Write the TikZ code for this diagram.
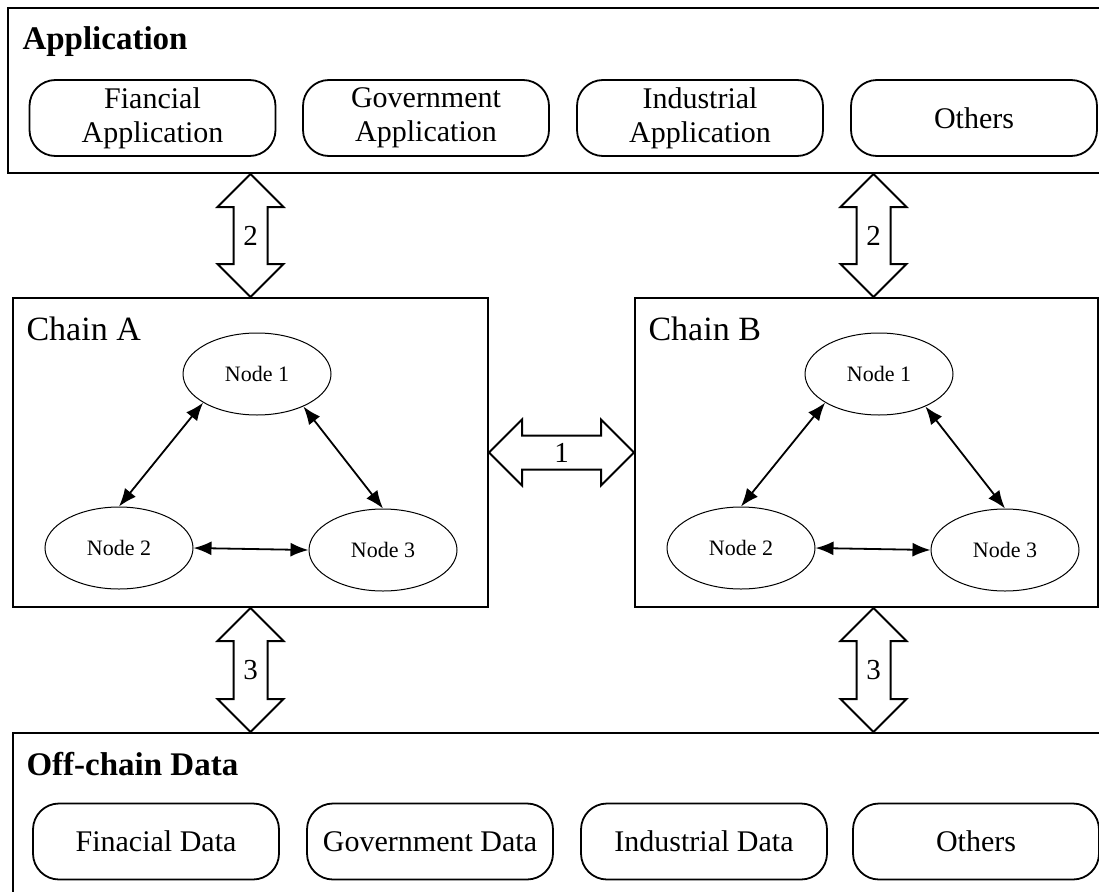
\documentclass[tikz,border=0pt]{standalone}
\usepackage{fontspec}
\setmainfont{Liberation Serif}
\usetikzlibrary{arrows.meta,calc,shapes.geometric}

\newcommand{\twoway}[4]{%
  \coordinate (#3t) at ($#1!33pt!#2$);
  \coordinate (#3b) at ($#2!33pt!#1$);
  \draw[bigarrow] #1 -- ($(#3t)!33pt!90:#1$) -- ($(#3t)!17pt!90:#1$)
    -- ($(#3b)!17pt!-90:#2$) -- ($(#3b)!33pt!-90:#2$) -- #2
    -- ($(#3b)!33pt!90:#2$) -- ($(#3b)!17pt!90:#2$)
    -- ($(#3t)!17pt!-90:#1$) -- ($(#3t)!33pt!-90:#1$) -- cycle;
  \node[numtext] (#3) at ($#1!0.5!#2$) {#4};}

\begin{document}
\begin{tikzpicture}[x=1pt,y=-1pt,
    frame/.style={draw, line width=2pt, anchor=north west, inner sep=0pt},
    tag/.style={draw, line width=1.8pt, rounded corners=26pt, minimum width=246pt, minimum height=76pt, align=center, font=\fontsize{30}{34}\selectfont},
    layertitle/.style={anchor=base west, font=\fontsize{33}{36}\selectfont\bfseries},
    chaintitle/.style={anchor=base west, font=\fontsize{34}{38}\selectfont},
    peer/.style={draw, ellipse, line width=1pt, minimum width=148pt, minimum height=82pt, inner sep=0pt, font=\fontsize{22}{24}\selectfont},
    sync/.style={line width=1.8pt, <->, >={Latex[length=18pt,width=14pt]}},
    bigarrow/.style={draw, line width=2pt, fill=white, line join=miter},
    numtext/.style={font=\fontsize{29}{30}\selectfont, inner sep=0pt}]
    \useasboundingbox (0,0) rectangle (1099,891);

    \node[frame, minimum width=1120pt, minimum height=165pt] (app) at (7,7) {};
    \node[layertitle] (apptitle) at (19,50) {Application};
    \node[tag] (finapp) at (152.5,118) {Fiancial\\Application};
    \node[tag] (govapp) at (426,118) {Government\\Application};
    \node[tag] (indapp) at (700,118) {Industrial\\Application};
    \node[tag] (othapp) at (974,118) {Others};

    \node[frame, minimum width=475pt, minimum height=309pt] (chaina) at (12,297) {};
    \node[chaintitle] (chainatitle) at (23,340) {Chain A};
    \node[peer] (a1) at (257,374) {Node 1};
    \node[peer] (a2) at (119,548) {Node 2};
    \node[peer] (a3) at (383,550) {Node 3};
    \draw[sync] (a1.208) -- (a2.north);
    \draw[sync] (a1.325) -- (a3.north);
    \draw[sync] (a2.east) -- (a3.west);

    \node[frame, minimum width=463pt, minimum height=309pt] (chainb) at (634,297) {};
    \node[chaintitle] (chainbtitle) at (645,340) {Chain B};
    \node[peer] (b1) at (879,374) {Node 1};
    \node[peer] (b2) at (741,548) {Node 2};
    \node[peer] (b3) at (1005,550) {Node 3};
    \draw[sync] (b1.208) -- (b2.north);
    \draw[sync] (b1.325) -- (b3.north);
    \draw[sync] (b2.east) -- (b3.west);

    \node[frame, minimum width=1120pt, minimum height=200pt] (off) at (12,732) {};
    \node[layertitle] (offtitle) at (23,775) {Off-chain Data};
    \node[tag] (findata) at (156,841.5) {Finacial Data};
    \node[tag] (govdata) at (430,841.5) {Government Data};
    \node[tag] (inddata) at (704,841.5) {Industrial Data};
    \node[tag] (othdata) at (976,841.5) {Others};

    \coordinate (a2top) at (chaina.north |- app.south);
    \coordinate (b2bot) at ($(chainb.north)+(7,0)$);
    \coordinate (b2top) at (b2bot |- app.south);
    \coordinate (a3bot) at (chaina.south |- off.north);
    \coordinate (b3top) at ($(chainb.south)+(7,0)$);
    \coordinate (b3bot) at (b3top |- off.north);

    \twoway{(a2top)}{(chaina.north)}{lbla2}{2}
    \twoway{(b2top)}{(b2bot)}{lblb2}{2}
    \twoway{(chaina.east)}{(chainb.west)}{lbl1}{1}
    \twoway{(chaina.south)}{(a3bot)}{lbla3}{3}
    \twoway{(b3top)}{(b3bot)}{lblb3}{3}
\end{tikzpicture}
\end{document}
